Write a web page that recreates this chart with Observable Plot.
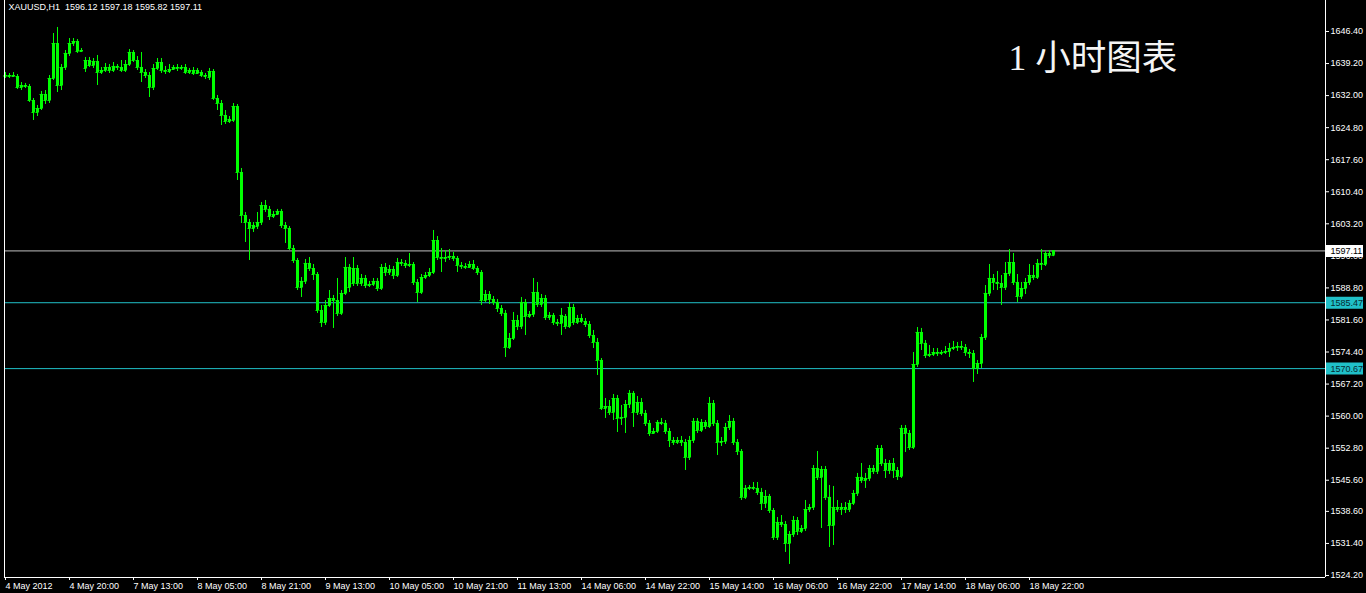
<!DOCTYPE html>
<html>
<head>
<meta charset="utf-8">
<script src="https://cdn.jsdelivr.net/npm/d3@7"></script>
<script src="https://cdn.jsdelivr.net/npm/@observablehq/plot@0.6"></script>
<style>
  html, body { margin: 0; padding: 0; background: #000; overflow: hidden; }
  #chart { width: 1366px; height: 593px; }
  #chart svg { display: block; }
</style>
</head>
<body>
<div id="chart"></div>
<script>
const symbolName = "XAUUSD,H1";
const titleText = "1 小时图表";

// Hourly bars (index 0 = 4 May 2012 04:00)
const opens = [
1636.29,1636.51,1636.29,1636.29,1633.82,1634.27,1634.04,1630.90,1628.20,1629.10,
1632.25,1630.90,1635.84,1643.70,1634.27,1638.31,1641.46,1643.70,1644.15,1641.90,
1638.09,1639.88,1638.76,1639.66,1637.19,1637.64,1638.31,1637.64,1638.54,1638.31,
1637.64,1638.98,1641.68,1639.88,1638.31,1637.19,1636.51,1633.82,1638.09,1639.43,
1637.64,1637.41,1637.86,1638.31,1638.09,1638.31,1637.19,1637.64,1636.96,1637.19,
1636.51,1636.07,1637.41,1631.35,1630.22,1627.53,1626.18,1626.41,1629.55,1614.73,
1605.07,1603.49,1602.15,1602.60,1603.49,1607.31,1606.42,1604.84,1605.29,1605.97,
1602.82,1602.15,1597.65,1594.96,1588.89,1590.25,1594.29,1593.16,1591.81,1583.73,
1581.03,1584.85,1586.42,1585.97,1583.06,1587.55,1593.39,1589.79,1593.16,1589.79,
1590.92,1589.34,1589.57,1590.25,1588.67,1593.39,1592.26,1592.94,1591.59,1594.51,
1594.29,1593.84,1594.06,1590.02,1587.77,1591.14,1591.59,1592.26,1599.45,1595.63,
1595.41,1595.63,1595.86,1595.41,1593.84,1593.61,1593.39,1594.06,1593.16,1592.26,
1585.97,1587.32,1586.20,1585.53,1584.18,1583.06,1575.42,1577.44,1581.48,1580.13,
1585.53,1582.38,1582.83,1587.77,1585.08,1586.42,1582.16,1582.61,1581.03,1580.81,
1582.38,1580.13,1584.40,1581.03,1581.93,1581.26,1580.58,1578.11,1576.54,1572.50,
1561.72,1562.16,1560.82,1563.96,1559.47,1559.69,1562.61,1565.09,1560.82,1563.06,
1560.59,1558.35,1556.10,1556.55,1558.57,1558.35,1556.55,1554.53,1554.08,1554.53,
1554.08,1550.71,1554.53,1558.80,1556.77,1558.57,1557.67,1562.84,1558.35,1554.08,
1554.30,1557.45,1558.80,1554.08,1552.06,1541.73,1543.75,1543.97,1543.75,1542.85,
1540.38,1541.95,1538.80,1532.74,1536.11,1535.66,1531.39,1533.41,1536.56,1534.09,
1534.76,1539.03,1539.48,1548.24,1546.22,1548.01,1541.73,1535.43,1539.48,1539.03,
1539.48,1539.03,1540.38,1542.62,1546.22,1545.54,1545.99,1548.24,1547.57,1552.73,
1549.36,1547.79,1549.36,1547.79,1546.44,1557.23,1556.10,1552.95,1571.60,1578.79,
1576.32,1573.62,1573.85,1574.29,1574.07,1574.29,1574.52,1575.19,1575.42,1575.64,
1575.42,1574.29,1574.07,1570.70,1571.82,1577.66,1587.55,1590.92,1590.02,1589.79,
1588.89,1592.04,1594.51,1590.02,1586.87,1588.67,1590.02,1591.59,1591.14,1594.29,
1594.06,1596.53,1596.12
];
const highs = [
1637.19,1636.96,1637.19,1636.74,1634.94,1634.72,1634.49,1631.35,1629.77,1632.92,
1633.14,1636.51,1645.95,1647.30,1638.98,1642.13,1644.82,1644.82,1644.60,1642.58,
1640.56,1640.56,1640.33,1641.01,1638.31,1639.21,1638.98,1639.43,1638.98,1639.88,
1639.88,1642.35,1642.13,1640.78,1641.68,1637.86,1637.19,1638.98,1640.33,1640.33,
1638.54,1638.98,1638.76,1638.98,1638.76,1638.98,1638.09,1638.31,1638.09,1637.64,
1636.96,1638.09,1637.86,1632.02,1630.90,1628.65,1627.30,1630.22,1630.00,1615.62,
1605.74,1604.17,1603.49,1605.74,1607.99,1608.44,1607.09,1605.97,1606.42,1606.42,
1603.49,1602.60,1598.33,1595.41,1591.14,1595.18,1595.63,1594.06,1592.26,1584.85,
1585.97,1588.22,1587.10,1590.92,1588.22,1595.63,1594.06,1595.63,1593.84,1591.81,
1591.59,1590.25,1590.92,1590.92,1594.06,1594.29,1593.84,1593.61,1595.41,1595.18,
1594.96,1596.53,1594.51,1590.69,1591.81,1592.26,1593.16,1601.70,1600.35,1597.65,
1597.21,1597.43,1596.76,1595.86,1594.51,1594.29,1594.74,1594.96,1593.61,1592.71,
1588.22,1587.99,1586.87,1586.20,1584.85,1583.73,1578.56,1583.28,1582.61,1586.65,
1586.20,1583.50,1590.92,1590.02,1587.32,1587.10,1583.28,1583.06,1581.71,1584.18,
1582.83,1585.53,1585.08,1582.61,1582.83,1581.93,1581.26,1579.24,1577.44,1572.94,
1563.96,1563.51,1564.86,1564.64,1562.39,1563.51,1565.76,1565.54,1564.41,1563.96,
1561.27,1559.02,1557.23,1559.02,1559.47,1559.02,1557.23,1555.20,1555.20,1555.43,
1554.75,1555.43,1559.47,1559.47,1559.24,1559.02,1564.19,1563.51,1559.02,1555.20,
1558.35,1560.14,1559.47,1554.75,1552.50,1544.42,1544.42,1545.09,1545.09,1543.75,
1543.30,1542.40,1539.25,1537.23,1537.68,1536.33,1534.09,1537.46,1537.23,1535.43,
1541.05,1540.15,1548.91,1552.06,1548.69,1548.69,1544.42,1544.20,1541.05,1540.38,
1540.60,1541.05,1543.30,1547.12,1549.36,1547.12,1548.91,1548.91,1553.40,1553.40,
1550.26,1550.03,1550.48,1548.46,1557.90,1557.90,1556.77,1574.29,1579.91,1579.69,
1576.99,1575.87,1575.19,1575.19,1574.74,1575.64,1576.32,1576.77,1576.54,1576.77,
1576.09,1574.97,1574.74,1572.50,1578.34,1589.34,1594.06,1591.81,1592.49,1591.59,
1594.51,1597.43,1596.53,1591.81,1590.02,1590.92,1594.06,1593.84,1595.18,1597.43,
1596.98,1597.21,1597.18
];
const lows = [
1635.84,1635.84,1636.07,1633.37,1633.14,1633.59,1630.45,1626.41,1627.30,1628.65,
1630.00,1630.22,1635.39,1632.69,1633.14,1637.64,1640.78,1643.03,1641.46,1641.68,
1637.19,1638.31,1638.09,1634.27,1636.74,1637.19,1636.96,1637.19,1637.64,1637.19,
1637.19,1638.54,1639.43,1637.64,1634.94,1635.84,1631.57,1633.14,1637.64,1636.96,
1636.74,1636.96,1637.64,1637.41,1637.64,1636.74,1636.74,1636.51,1636.74,1636.07,
1635.62,1635.39,1630.90,1628.65,1625.28,1625.51,1625.73,1625.96,1612.93,1603.27,
1599.00,1594.96,1601.25,1601.92,1602.82,1605.74,1603.94,1604.39,1605.07,1602.15,
1598.78,1597.21,1594.29,1588.22,1586.65,1589.57,1592.49,1590.47,1583.06,1579.91,
1580.36,1584.40,1579.69,1582.38,1582.61,1587.10,1587.77,1589.12,1589.12,1589.12,
1588.67,1588.89,1589.12,1588.00,1588.22,1591.36,1591.59,1590.69,1591.14,1593.61,
1593.16,1593.39,1589.34,1585.53,1587.32,1590.69,1591.14,1591.81,1594.96,1592.26,
1594.51,1594.96,1594.74,1592.26,1592.94,1592.94,1593.16,1592.71,1591.59,1584.85,
1585.53,1585.08,1584.85,1583.28,1582.38,1573.17,1574.97,1576.99,1579.24,1579.46,
1578.11,1581.93,1582.16,1584.40,1584.40,1581.48,1581.48,1580.36,1580.13,1578.11,
1579.46,1579.69,1580.36,1580.58,1580.81,1579.91,1577.44,1575.19,1569.13,1561.27,
1559.47,1560.14,1559.02,1556.32,1557.90,1556.10,1561.72,1557.45,1560.14,1559.92,
1557.67,1555.43,1555.88,1556.10,1557.90,1555.88,1552.95,1553.40,1553.63,1553.18,
1547.79,1550.03,1553.85,1556.10,1556.32,1557.00,1557.23,1557.67,1551.16,1553.18,
1553.63,1556.77,1553.40,1551.16,1541.05,1541.28,1543.30,1543.30,1542.17,1538.80,
1539.25,1538.13,1532.06,1532.06,1534.98,1529.37,1526.68,1532.74,1533.19,1533.64,
1534.09,1538.36,1538.80,1545.54,1534.76,1541.05,1530.49,1530.94,1538.36,1537.68,
1538.13,1538.36,1539.93,1541.95,1544.87,1543.75,1545.32,1546.89,1546.89,1548.69,
1545.99,1546.89,1545.99,1545.54,1545.99,1551.83,1552.28,1552.50,1570.92,1574.74,
1572.94,1573.17,1573.40,1573.40,1573.62,1573.85,1573.17,1574.74,1574.52,1574.74,
1573.40,1572.94,1567.56,1569.35,1570.70,1576.99,1586.87,1588.22,1588.22,1584.85,
1588.22,1591.36,1589.34,1585.53,1586.20,1587.32,1589.34,1590.47,1590.69,1592.71,
1593.61,1595.41,1595.82
];
const closes = [
1636.51,1636.29,1636.51,1633.82,1634.27,1634.04,1630.90,1628.20,1629.10,1632.25,
1630.90,1635.84,1643.70,1634.27,1638.31,1641.46,1643.70,1644.15,1641.90,1642.13,
1639.88,1638.76,1639.66,1637.19,1637.64,1638.31,1637.64,1638.54,1638.31,1637.64,
1638.98,1641.68,1639.88,1638.31,1637.19,1636.51,1633.82,1638.09,1639.43,1637.64,
1637.41,1637.86,1638.31,1638.09,1638.31,1637.19,1637.64,1636.96,1637.64,1636.51,
1636.29,1637.41,1631.35,1630.22,1627.53,1626.18,1626.63,1629.55,1614.73,1605.07,
1603.49,1602.15,1602.82,1603.49,1607.31,1606.42,1604.84,1605.29,1605.97,1602.82,
1602.15,1597.65,1594.96,1588.89,1590.25,1594.29,1593.16,1591.81,1583.73,1581.03,
1584.85,1586.42,1585.97,1583.06,1587.55,1593.39,1588.89,1593.16,1589.79,1590.92,
1589.34,1589.57,1590.25,1588.67,1593.39,1592.26,1592.94,1591.59,1594.51,1594.29,
1593.84,1594.06,1590.02,1587.77,1591.14,1591.59,1592.26,1599.45,1595.63,1595.41,
1595.63,1595.86,1595.41,1593.84,1593.61,1593.39,1594.06,1593.16,1592.26,1585.97,
1587.32,1586.20,1585.53,1584.18,1583.06,1575.42,1577.44,1581.48,1580.13,1585.53,
1582.38,1582.83,1587.77,1585.08,1586.42,1582.16,1582.61,1581.03,1580.81,1582.61,
1580.13,1584.40,1581.03,1581.93,1581.26,1580.58,1578.11,1576.54,1572.50,1561.72,
1562.16,1560.82,1563.96,1559.47,1559.69,1562.61,1565.09,1560.82,1563.06,1560.59,
1558.35,1556.10,1556.55,1558.57,1558.35,1556.55,1554.53,1554.08,1554.53,1554.08,
1550.71,1554.53,1558.80,1556.77,1558.57,1557.67,1562.84,1558.35,1554.08,1554.30,
1557.45,1558.80,1554.08,1552.06,1541.73,1543.75,1543.97,1543.75,1542.85,1540.38,
1541.95,1538.80,1532.74,1536.11,1535.66,1531.39,1533.41,1536.56,1534.09,1534.76,
1539.03,1539.48,1548.24,1546.22,1548.01,1541.73,1535.43,1539.48,1539.03,1539.48,
1539.03,1540.38,1542.62,1546.22,1545.54,1545.99,1548.24,1547.57,1552.73,1549.36,
1547.79,1549.36,1547.79,1546.44,1557.23,1556.10,1552.95,1571.60,1578.79,1576.32,
1573.62,1573.85,1574.29,1574.07,1574.29,1574.52,1575.19,1575.42,1575.64,1575.42,
1574.29,1574.07,1570.70,1571.82,1577.66,1587.55,1590.92,1590.02,1589.79,1588.89,
1592.04,1594.51,1590.02,1586.87,1588.67,1590.02,1591.59,1591.14,1594.29,1594.06,
1596.53,1596.08,1597.11
];

const timeTickBars = [0,16,32,48,64,80,96,112,128,144,160,176,192,208,224,240,256];
const timeTickLabels = ["4 May 2012","4 May 20:00","7 May 13:00","8 May 05:00","8 May 21:00",
  "9 May 13:00","10 May 05:00","10 May 21:00","11 May 13:00","14 May 06:00","14 May 22:00",
  "15 May 14:00","16 May 06:00","16 May 22:00","17 May 14:00","18 May 06:00","18 May 22:00"];
const priceTicks = [1646.40,1639.20,1632.00,1624.80,1617.60,1610.40,1603.20,1596.00,1588.80,
  1581.60,1574.40,1567.20,1560.00,1552.80,1545.60,1538.60,1531.40,1524.20];
const bidPrice = 1597.11;
const lineLevels = [1585.47, 1570.67];

const xDomain = [-0.25, 330];
const yDomain = [1523.75, 1653.36];

const bars = opens.map((o, i) => ({i, o, h: highs[i], l: lows[i], c: closes[i]}));
const last = bars[bars.length - 1];
const header = `${symbolName}\u00a0 ${last.o.toFixed(2)} ${last.h.toFixed(2)} ${last.l.toFixed(2)} ${last.c.toFixed(2)}`;
const tickLabelByBar = new Map(timeTickBars.map((b, k) => [b, timeTickLabels[k]]));

const green = "#00ff00";
const cyan = "#20c0c8";
const halfBody = 0.375;

const chart = Plot.plot({
  width: 1366,
  height: 593,
  marginTop: 0,
  marginRight: 41,
  marginBottom: 16,
  marginLeft: 4,
  style: {background: "#000", color: "#fff", fontFamily: "'Liberation Sans', Arial, sans-serif", fontSize: "9px"},
  x: {domain: xDomain},
  y: {domain: yDomain},
  marks: [
    Plot.ruleY(lineLevels, {stroke: cyan}),
    Plot.ruleY([bidPrice], {stroke: "#c0c0c0"}),
    Plot.ruleX(bars, {x: "i", y1: "l", y2: "h", stroke: green}),
    Plot.ruleX(bars, {x: "i", y1: "o", y2: "c", stroke: green, strokeWidth: 3}),
    Plot.ruleY(bars, {y: "o", x1: d => d.i - halfBody, x2: d => d.i + halfBody, stroke: green}),
    Plot.ruleY(bars, {y: "c", x1: d => d.i - halfBody, x2: d => d.i + halfBody, stroke: green}),
    Plot.ruleX(xDomain, {stroke: "#fff"}),
    Plot.ruleY([yDomain[0]], {stroke: "#fff"}),
    Plot.axisY({anchor: "right", ticks: priceTicks, tickFormat: d => d.toFixed(2), tickSize: 3, tickPadding: 2, label: null}),
    Plot.axisX({anchor: "bottom", ticks: timeTickBars, tickFormat: d => tickLabelByBar.get(d), tickSize: 3, tickPadding: 2, textAnchor: "start", label: null}),
    Plot.ruleY([bidPrice], {x1: xDomain[1] + 0.25, x2: xDomain[1] + 9.5, stroke: "#fff", strokeWidth: 12}),
    Plot.text([bidPrice], {x: xDomain[1], y: d => d, text: d => d.toFixed(2), dx: 5, textAnchor: "start", fill: "#000"}),
    Plot.ruleY(lineLevels, {x1: xDomain[1] + 0.25, x2: xDomain[1] + 9.5, stroke: cyan, strokeWidth: 12}),
    Plot.text(lineLevels, {x: xDomain[1], y: d => d, text: d => d.toFixed(2), dx: 5, textAnchor: "start", fill: "#062a30"}),
    Plot.text([header], {frameAnchor: "top-left", text: d => d, dx: 4, dy: 3, lineAnchor: "top", textAnchor: "start", fill: "#fff"}),
    Plot.text([titleText], {frameAnchor: "top-left", text: d => d, dx: 1004, dy: 44, lineAnchor: "top", textAnchor: "start",
      fontSize: 35.5, fontFamily: "'Liberation Serif', 'Noto Sans CJK SC', serif", fill: "#f4f4f4"})
  ]
});
document.getElementById("chart").appendChild(chart);
</script>
</body>
</html>
